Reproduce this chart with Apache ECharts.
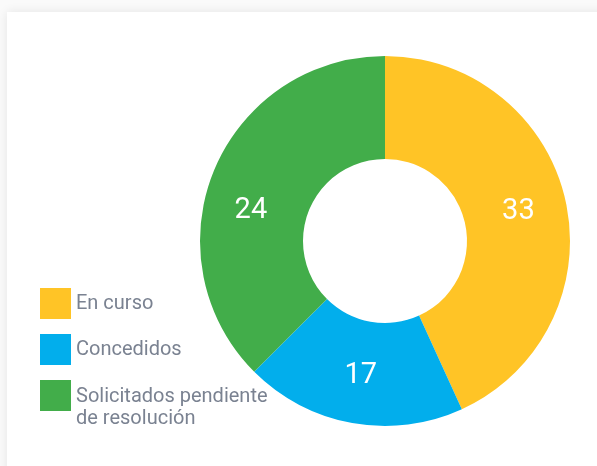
<!DOCTYPE html>
<html>
<head>
<meta charset="utf-8">
<script src="https://cdn.jsdelivr.net/npm/echarts@6/dist/echarts.min.js"></script>
<style>
  html, body { margin: 0; padding: 0; background: #fafafa; }
  .card {
    position: absolute; left: 7px; top: 12px; width: 620px; height: 480px;
    background: #fff; box-shadow: 0 0 10px rgba(0, 0, 0, 0.09);
  }
  #chart { position: absolute; left: 0; top: 0; width: 597px; height: 466px; }
</style>
</head>
<body>
<div class="card"></div>
<div id="chart"></div>
<script>
// categorias y valores mostrados
const categories = ["En curso", "Concedidos", "Solicitados pendiente de resolución"];
const labels = [33, 17, 24];
// tamaño de cada porción, leído de los ángulos del dibujo (no cuadran con las etiquetas)
const shares = [38, 17, 33];
const colors = ["#FFC426", "#02AEEC", "#42AD4A"];

const chart = echarts.init(document.getElementById("chart"));

const txt = { color: "#7a8291", fontSize: 20, fontFamily: "Roboto", lineHeight: 22 };

// estilo común de la leyenda
const legendBase = {
  orient: "vertical",
  left: 40,
  height: 200,
  padding: 0,
  itemWidth: 31,
  itemHeight: 31,
  itemGap: 15,
  icon: "rect",
  selectedMode: false,
  textStyle: { ...txt, rich: { s: { lineHeight: 25 }, t: txt } },
};

const option = {
  color: colors,
  legend: [
    { ...legendBase, top: 288, data: [categories[0], categories[1]] },
    {
      ...legendBase,
      top: 361,
      // primera línea a la altura del cuadro, la segunda debajo
      formatter: (name) => "{s|}\n{t|" + name.replace("pendiente ", "pendiente}\n{t|") + "}",
      data: [categories[2]],
    },
  ],
  series: [
    {
      type: "pie",
      center: [385, 241],
      radius: [82, 185],
      startAngle: 90,
      clockwise: true,
      silent: true,
      label: {
        position: "inside",
        // la etiqueta "24" está algo más abajo y a la izquierda del centro de su porción
        formatter: (p) =>
          p.dataIndex === 2 ? "{s|}\n{n|" + labels[2] + "}{w|}" : "{n|" + labels[p.dataIndex] + "}",
        rich: {
          n: { color: "#fff", fontSize: 29, fontFamily: "Roboto", lineHeight: 32 },
          s: { height: 44 },
          w: { width: 16 },
        },
      },
      labelLine: { show: false },
      data: categories.map((c, i) => ({ name: c, value: shares[i] })),
    },
  ],
};
chart.setOption(option);
</script>
</body>
</html>
